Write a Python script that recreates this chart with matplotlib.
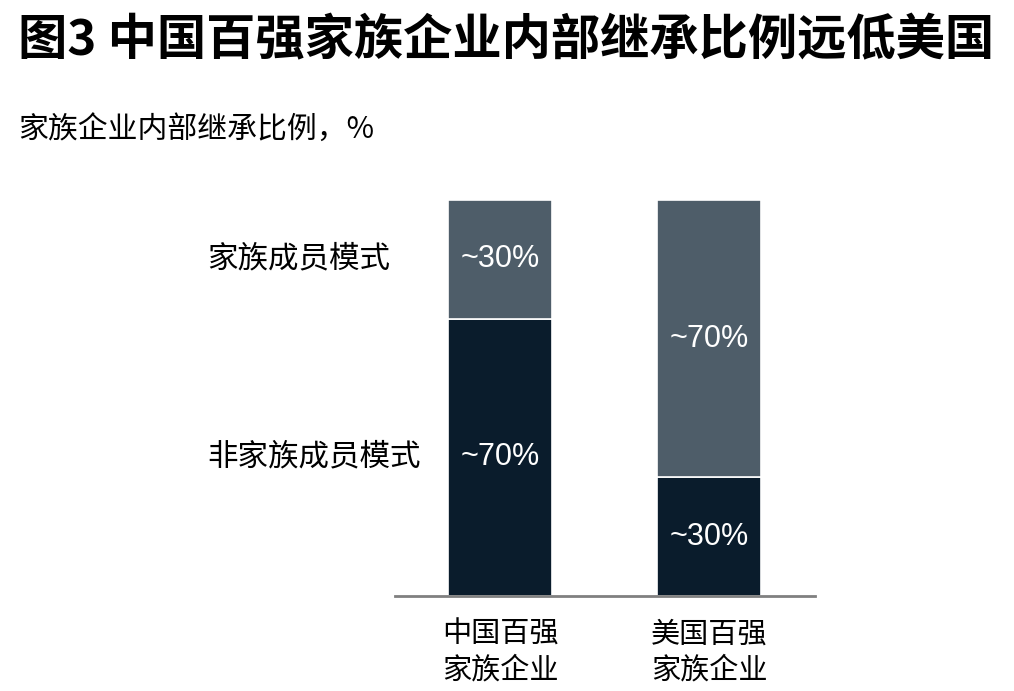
import numpy as np
import matplotlib
matplotlib.use("Agg")
import matplotlib.pyplot as plt
import matplotlib.transforms as mtransforms

plt.rcParams['font.family'] = ['Noto Sans CJK SC', 'DejaVu Sans']

# ==== Daten ====
categories = ["中国百强\n家族企业", "美国百强\n家族企业"]
non_family = [70, 30]      # 非家族成员模式 (unten)
family = [30, 70]          # 家族成员模式 (oben)
seg_names = ["非家族成员模式", "家族成员模式"]
value_labels_bottom = ["~70%", "~30%"]
value_labels_top = ["~30%", "~70%"]

c_dark = "#0a1c2c"
c_gray = "#4e5d69"

fig = plt.figure(figsize=(10.14, 6.91), dpi=100)
ax = fig.add_axes([395/1014, 1-596/691, (815-395)/1014, (596-200)/691])

x = np.arange(len(categories))
w = 0.496
ax.bar(x, non_family, width=w, color=c_dark, edgecolor="white", linewidth=1.2)
ax.bar(x, family, width=w, bottom=non_family, color=c_gray, edgecolor="white", linewidth=1.2)

for i in range(len(categories)):
    ax.text(x[i], non_family[i] / 2, value_labels_bottom[i], ha="center", va="center",
            color="white", fontsize=22, family="Liberation Sans")
    ax.text(x[i], non_family[i] + family[i] / 2, value_labels_top[i], ha="center", va="center",
            color="white", fontsize=22, family="Liberation Sans")

ax.set_xlim(-0.501, 1.504)
ax.set_ylim(0, 100)
for s in ["top", "right", "left"]:
    ax.spines[s].set_visible(False)
ax.spines["bottom"].set_color("#808080")
ax.spines["bottom"].set_linewidth(2)
ax.set_yticks([])
ax.set_xticks(x)
ax.set_xticklabels(categories, fontsize=21, linespacing=1.25, fontweight="medium")
ax.tick_params(axis="x", length=0, pad=17)

# Segmentnamen links, auf Höhe der China-Segmente
trans = mtransforms.blended_transform_factory(fig.transFigure, ax.transData)
ax.text(207/1014, non_family[0] / 2, seg_names[0], transform=trans, ha="left", va="center",
        fontsize=22, fontweight="medium")
ax.text(207/1014, non_family[0] + family[0] / 2, seg_names[1], transform=trans, ha="left", va="center",
        fontsize=22, fontweight="medium")

fig.text(18/1014, 1-41/691, "图3 中国百强家族企业内部继承比例远低美国", fontsize=35.5,
         fontweight="bold", ha="left", va="center")
fig.text(18/1014, 1-130/691, "家族企业内部继承比例，%", fontsize=21.5, fontweight="medium",
         ha="left", va="center")

fig.savefig("out.png", dpi=100)
